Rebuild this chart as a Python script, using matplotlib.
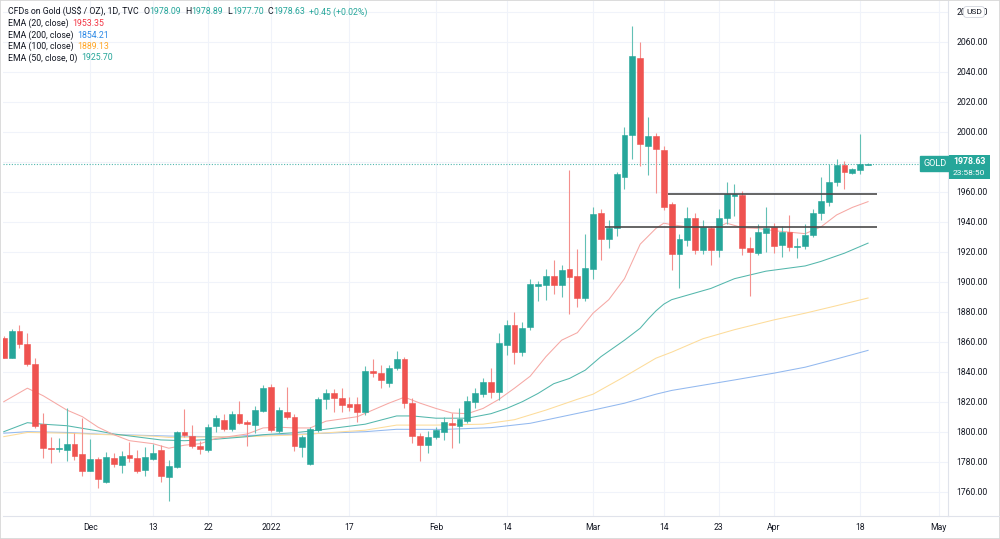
import numpy as np
import matplotlib
matplotlib.use('Agg')
import matplotlib.pyplot as plt
from matplotlib.transforms import blended_transform_factory
from matplotlib.lines import Line2D
from matplotlib.patches import Rectangle

plt.rcParams['font.family'] = ['Roboto', 'DejaVu Sans']

# daily candles, 16 Nov 2021 .. 19 Apr 2022
opens = [1862.7, 1849.3, 1867.1, 1858.2, 1844.9, 1804.9, 1789.3, 1788.2, 1787.8, 1791.8,
         1784.9, 1774.0, 1781.6, 1766.4, 1782.4, 1777.8, 1784.2, 1782.4, 1774.2, 1781.8,
         1788.0, 1769.6, 1776.5, 1799.5, 1797.1, 1790.4, 1788.0, 1803.8, 1807.8, 1801.8,
         1811.8, 1806.5, 1804.7, 1814.0, 1830.0, 1800.4, 1813.3, 1810.0, 1789.6, 1778.4,
         1801.1, 1821.6, 1826.0, 1822.2, 1818.4, 1818.4, 1813.3, 1840.4, 1838.9, 1832.7,
         1842.2, 1848.2, 1818.9, 1797.3, 1791.1, 1796.7, 1800.0, 1806.0, 1803.8, 1807.3,
         1820.0, 1824.9, 1833.3, 1826.7, 1857.8, 1871.1, 1852.9, 1869.6, 1897.1, 1897.8,
         1903.8, 1897.8, 1908.4, 1903.8, 1888.9, 1908.2, 1945.6, 1928.4, 1935.6, 1970.0,
         1997.8, 2049.3, 1990.4, 1997.1, 1987.8, 1951.6, 1918.2, 1927.8, 1942.7, 1921.1,
         1935.6, 1921.1, 1942.2, 1957.3, 1957.8, 1922.2, 1919.3, 1932.2, 1936.7, 1924.4,
         1932.9, 1923.3, 1923.8, 1931.1, 1946.0, 1953.3, 1966.7, 1977.8, 1972.7, 1974.4,
         1978.09]
highs = [1863.5, 1868.4, 1871.1, 1865.8, 1848.9, 1812.7, 1796.7, 1795.6, 1816.0, 1799.3,
         1809.3, 1795.1, 1783.0, 1786.7, 1785.6, 1787.1, 1793.3, 1787.6, 1790.0, 1791.8,
         1791.0, 1781.1, 1800.4, 1814.9, 1804.2, 1794.0, 1805.1, 1811.4, 1811.5, 1813.5,
         1820.7, 1808.0, 1817.1, 1830.9, 1831.8, 1816.7, 1829.6, 1812.0, 1798.0, 1803.0,
         1823.3, 1828.2, 1828.2, 1828.9, 1822.9, 1822.9, 1843.8, 1848.2, 1844.4, 1844.4,
         1854.0, 1850.0, 1822.2, 1799.0, 1800.7, 1803.0, 1810.0, 1812.2, 1815.6, 1823.8,
         1829.2, 1836.0, 1842.2, 1866.0, 1874.4, 1879.6, 1872.9, 1901.6, 1900.4, 1908.2,
         1914.4, 1911.1, 1974.4, 1921.6, 1931.6, 1950.0, 1948.2, 1941.1, 1973.0, 2003.3,
         2070.4, 2059.6, 2009.6, 1998.9, 1990.4, 1953.0, 1932.0, 1949.6, 1946.0, 1941.1,
         1937.0, 1948.2, 1966.2, 1964.9, 1960.4, 1929.6, 1938.2, 1950.0, 1939.3, 1937.1,
         1944.4, 1928.9, 1938.2, 1948.2, 1969.6, 1978.4, 1981.6, 1980.7, 1976.0, 1998.4,
         1978.89]
lows = [1849.0, 1849.0, 1856.0, 1843.8, 1802.7, 1782.7, 1778.9, 1786.7, 1780.7, 1781.1,
        1770.7, 1773.8, 1762.7, 1766.0, 1776.2, 1772.7, 1780.0, 1772.7, 1770.7, 1781.0,
        1766.7, 1753.6, 1776.0, 1796.7, 1789.2, 1785.1, 1786.7, 1800.0, 1800.5, 1800.5,
        1805.1, 1790.2, 1798.9, 1813.0, 1800.0, 1799.3, 1808.4, 1787.3, 1782.9, 1778.0,
        1800.0, 1814.9, 1813.3, 1813.1, 1813.8, 1806.7, 1811.1, 1836.2, 1828.9, 1829.6,
        1841.0, 1815.6, 1792.2, 1780.7, 1785.6, 1795.0, 1794.4, 1789.4, 1792.5, 1806.0,
        1815.6, 1823.0, 1822.2, 1821.1, 1851.1, 1844.9, 1850.4, 1867.8, 1887.1, 1887.8,
        1891.8, 1890.0, 1878.4, 1883.3, 1887.0, 1902.0, 1914.4, 1922.7, 1930.4, 1961.6,
        1981.6, 1977.1, 1971.1, 1959.3, 1948.0, 1907.8, 1895.6, 1924.0, 1918.2, 1918.2,
        1911.1, 1916.2, 1938.2, 1943.8, 1917.8, 1890.7, 1918.0, 1920.0, 1919.3, 1916.7,
        1920.7, 1915.6, 1921.6, 1929.6, 1941.1, 1950.4, 1963.8, 1961.6, 1972.0, 1971.8,
        1977.70]
closes = [1849.3, 1867.1, 1858.7, 1845.1, 1803.8, 1788.9, 1788.7, 1789.1, 1791.8, 1784.0,
          1774.0, 1781.6, 1768.2, 1783.3, 1778.4, 1783.8, 1782.7, 1774.0, 1782.9, 1786.0,
          1770.6, 1777.1, 1799.5, 1798.0, 1790.4, 1788.3, 1802.9, 1808.9, 1801.8, 1811.8,
          1806.0, 1804.8, 1814.4, 1829.4, 1801.4, 1814.4, 1809.6, 1790.7, 1796.2, 1801.6,
          1821.6, 1826.0, 1822.2, 1817.6, 1816.7, 1813.3, 1840.4, 1838.9, 1834.4, 1842.7,
          1848.2, 1819.3, 1797.3, 1791.1, 1796.7, 1801.1, 1806.2, 1804.4, 1808.2, 1820.7,
          1825.8, 1832.9, 1826.7, 1858.9, 1871.1, 1853.3, 1869.3, 1898.4, 1898.4, 1903.8,
          1897.8, 1907.8, 1902.9, 1888.9, 1908.9, 1944.9, 1928.4, 1935.6, 1971.6, 1997.8,
          2050.4, 1991.6, 1997.1, 1988.4, 1950.0, 1918.2, 1928.2, 1942.7, 1921.1, 1936.2,
          1921.1, 1942.2, 1958.2, 1958.2, 1922.2, 1919.6, 1932.9, 1936.0, 1924.0, 1932.9,
          1923.3, 1924.0, 1931.1, 1946.0, 1953.8, 1966.7, 1977.8, 1973.3, 1974.9, 1978.18,
          1978.63]

# EMA lines read at sampled candle positions
ema20_x = [0, 3, 5, 8, 10, 12, 14, 16, 19, 21, 23, 25, 27, 29, 31, 33, 35, 37, 39, 41, 43, 45,
           47, 49, 51, 53, 55, 57, 59, 61, 63, 65, 67, 69, 71, 73, 75, 77, 79, 81, 83, 84, 85,
           87, 89, 91, 92, 94, 96, 98, 100, 102, 104, 106, 108, 110]
ema20_y = [1820, 1829, 1824, 1814.5, 1810, 1803, 1798, 1794, 1792, 1789, 1791, 1792, 1795.5,
           1797, 1798.5, 1802.5, 1803, 1802.5, 1802.5, 1807, 1808.5, 1810, 1814.5, 1819, 1823,
           1819, 1815.5, 1812.5, 1812, 1815.5, 1821.5, 1829, 1837, 1850, 1861, 1866, 1879,
           1888, 1902, 1925, 1935.5, 1939, 1938, 1936.5, 1936, 1936.5, 1939, 1936, 1935.5,
           1934, 1933, 1932, 1936.5, 1944.5, 1949.5, 1953.35]
ema50_x = [0, 3, 5, 8, 12, 14, 17, 20, 23, 27, 31, 33, 37, 40, 46, 50, 52, 55, 59, 62, 64, 66,
           68, 70, 72, 74, 76, 79, 81, 82, 83, 84, 85, 90, 93, 97, 102, 104, 107, 110]
ema50_y = [1800, 1806, 1805, 1804, 1800.5, 1798.5, 1796.5, 1794.5, 1794, 1795, 1796.7, 1798,
           1799.3, 1801, 1805, 1810.5, 1810.5, 1809, 1809, 1812, 1815.5, 1820, 1825.5, 1832,
           1835.5, 1841, 1850, 1861, 1869, 1875, 1880.5, 1885, 1888, 1895.5, 1902, 1907,
           1910.5, 1913.5, 1919, 1925.7]
ema100_x = [0, 3, 8, 12, 19, 21, 31, 37, 46, 50, 55, 61, 65, 69, 73, 75, 79, 83, 85, 89, 93,
            98, 102, 106, 110]
ema100_y = [1796.7, 1799.5, 1799, 1798.2, 1797, 1796.2, 1796.7, 1797.8, 1801, 1804.4, 1804.4,
            1805, 1808, 1814.4, 1821.6, 1825, 1836.7, 1849, 1853, 1862, 1868, 1874.5, 1879,
            1884, 1889.13]
ema200_x = [0, 3, 8, 12, 21, 29, 31, 37, 46, 50, 56, 62, 67, 71, 75, 79, 83, 85, 89, 93, 98,
            102, 106, 110]
ema200_y = [1799, 1800, 1799.5, 1798.4, 1797.1, 1796.5, 1797.5, 1798.2, 1800, 1801.6, 1801.5,
            1802.7, 1805.6, 1810, 1814.4, 1819, 1825, 1827.5, 1831, 1834.5, 1839, 1843,
            1848.5, 1854.21]

# support / resistance levels drawn on the chart
level_hi, level_hi_from = 1958.2, 84.6
level_lo, level_lo_from = 1936.2, 76.5
level_to = 111.2
last_price = 1978.63

tick_pos = [11, 19, 26, 34, 44, 55, 64, 75, 84, 91, 98, 109, 119]
tick_lab = ['Dec', '13', '22', '2022', '17', 'Feb', '14', 'Mar', '14', '23', 'Apr', '18', 'May']

UP, DOWN = '#26a69a', '#ef5350'
UP_W, DOWN_W = '#62c0b5', '#f4908d'
TXT = '#131722'

W, H = 1000, 539
fig = plt.figure(figsize=(W / 100, H / 100), dpi=100)
ax = fig.add_axes([3 / W, (H - 516) / H, 945 / W, 515 / H])

o = np.array(opens); c = np.array(closes)
hi = np.array(highs); lo = np.array(lows)
idx = np.arange(len(o))
up = c >= o
colors = np.where(up, UP, DOWN)
wcolors = np.where(up, UP_W, DOWN_W)

ax.vlines(idx, lo, hi, colors=wcolors, linewidth=0.8, zorder=3)
ax.bar(idx, np.abs(c - o), bottom=np.minimum(o, c), width=0.74, color=colors,
       edgecolor=colors, linewidth=0.4, zorder=4)

ax.plot(ema200_x, ema200_y, color='#93b9ef', lw=0.75, zorder=2)
ax.plot(ema100_x, ema100_y, color='#fddc9a', lw=0.75, zorder=2)
ax.plot(ema50_x, ema50_y, color='#54b7ac', lw=0.75, zorder=2)
ax.plot(ema20_x, ema20_y, color='#f6a8a4', lw=0.75, zorder=2)

ax.hlines([level_hi, level_lo], [level_hi_from, level_lo_from], level_to,
          colors='#4a4a4a', lw=1.2, zorder=5)
ax.axhline(last_price, color=UP, lw=0.8, ls=(0, (1, 1.5)), alpha=0.8, zorder=1)

ax.set_xlim(-0.1, 945 / 7.857 - 0.1)
ax.set_ylim(1743.8, 2087.1)

yt = np.arange(1760, 2081, 20)
ax.set_yticks(yt)
# the 1980 label sits under the live price box
ax.set_yticklabels(['' if v == 1980 else f'{v:.2f}' for v in yt])
ax.yaxis.tick_right()
ax.set_xticks(tick_pos)
ax.set_xticklabels(tick_lab)
ax.tick_params(axis='y', length=0, pad=6, labelsize=6.2, labelcolor=TXT)
ax.tick_params(axis='x', length=0, pad=5, labelsize=6.2, labelcolor=TXT)
ax.grid(True, color='#f0f3fa', lw=0.8, zorder=0)
ax.set_axisbelow(True)
for s in ['top', 'left']:
    ax.spines[s].set_visible(False)
for s in ['right', 'bottom']:
    ax.spines[s].set_color('#e0e3eb')
    ax.spines[s].set_linewidth(0.8)

fig.add_artist(Line2D([948 / W, 1], [(H - 516) / H] * 2, color='#e0e3eb', lw=0.8))
fig.add_artist(Rectangle((0, 0), 1, 1, transform=fig.transFigure, fill=False,
                         edgecolor='#d6d6d6', lw=1.2))

# price labels
tr = blended_transform_factory(ax.transAxes, ax.transData)
ax.text(0.9985, last_price, 'GOLD', transform=tr, ha='right', va='center', fontsize=6.6,
        color='white', bbox=dict(boxstyle='square,pad=0.35', fc=UP, ec=UP), zorder=6)
fig.add_artist(Rectangle((949 / W, 1 - 179 / H), 41 / W, 24 / H, transform=fig.transFigure,
                         fc=UP, ec=UP, lw=0))
fig.text(953 / W, 1 - 162 / H, '1978.63', fontsize=6.3, color='white', fontweight='bold',
         ha='left', va='center')
fig.text(953 / W, 1 - 172.5 / H, '23:58:50', fontsize=6, color='white', ha='left',
         va='center')
fig.text(974 / W, 1 - 12 / H, 'USD', fontsize=6, color=TXT, ha='center', va='center',
         bbox=dict(boxstyle='round,pad=0.3,rounding_size=0.4', fc='white', ec='#d1d4dc', lw=0.6))

# legend rows
renderer = fig.canvas.get_renderer()


def row(x, y, parts, size=6.3):
    for s, col, gap in parts:
        t = fig.text(x / W, 1 - y / H, s, color=col, fontsize=size, ha='left', va='center')
        x += t.get_window_extent(renderer).width + gap


row(8, 12, [('CFDs on Gold (US$ / OZ), 1D, TVC', TXT, 5),
            ('O', TXT, 0), ('1978.09', UP, 4),
            ('H', TXT, 0), ('1978.89', UP, 4),
            ('L', TXT, 0), ('1977.70', UP, 4),
            ('C', TXT, 0), ('1978.63', UP, 4),
            ('+0.45 (+0.02%)', UP, 0)])
row(8, 23.5, [('EMA (20, close)', TXT, 4), ('1953.35', '#f23645', 0)])
row(8, 35, [('EMA (200, close)', TXT, 4), ('1854.21', '#2e8ae6', 0)])
row(8, 46.5, [('EMA (100, close)', TXT, 4), ('1889.13', '#ffa726', 0)])
row(8, 58, [('EMA (50, close, 0)', TXT, 4), ('1925.70', UP, 0)])

fig.savefig('out.png', dpi=100)
